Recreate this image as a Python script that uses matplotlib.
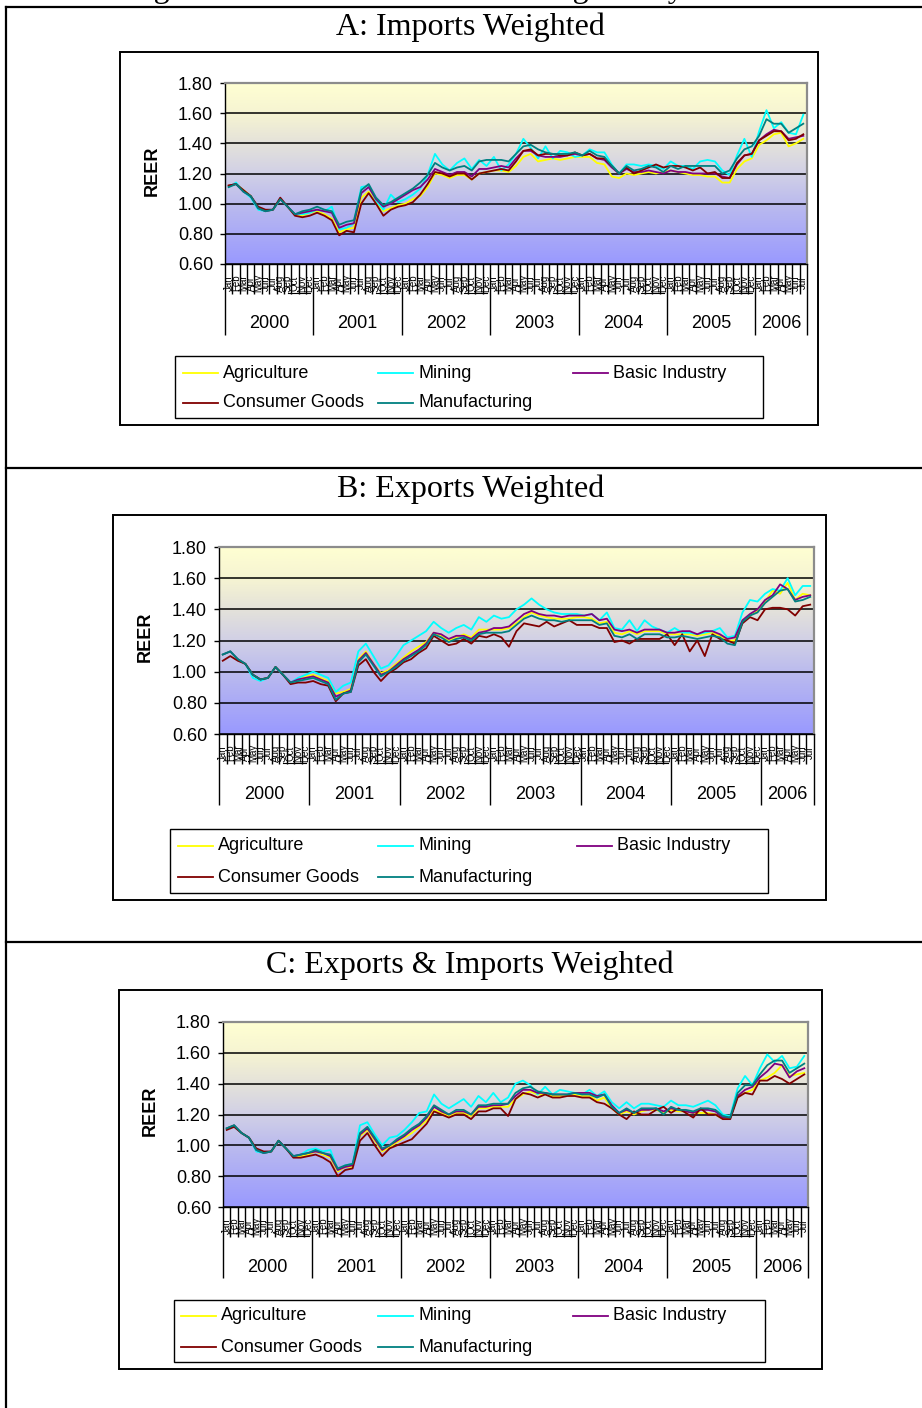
import numpy as np
import matplotlib
matplotlib.use("Agg")
import matplotlib.pyplot as plt
from matplotlib.colors import LinearSegmentedColormap
from matplotlib.lines import Line2D
from matplotlib.patches import Rectangle
from matplotlib.ticker import FormatStrFormatter
from matplotlib.transforms import ScaledTranslation

W, H, DPI = 922, 1408, 100
plt.rcParams["font.family"] = ["Liberation Sans", "DejaVu Sans"]
SERIF = ["Liberation Serif", "DejaVu Serif"]

# ---- categories -------------------------------------------------------
month_names = ["Jan", "Feb", "Mar", "Apr", "May", "Jun",
               "Jul", "Aug", "Sep", "Oct", "Nov", "Dec"]
years = ["2000", "2001", "2002", "2003", "2004", "2005", "2006"]
months_per_year = [12, 12, 12, 12, 12, 12, 7]

series_names = ["Agriculture", "Mining", "Basic Industry",
                "Consumer Goods", "Manufacturing"]
series_colors = ["#FFFF00", "#00FFFF", "#800080", "#800000", "#008080"]

# ---- A: imports weighted REER -----------------------------------------
imp_agriculture = [1.12, 1.13, 1.09, 1.05, 0.97, 0.95, 0.96, 1.03, 0.98, 0.93, 0.92, 0.94,
                   0.95, 0.93, 0.90, 0.81, 0.83, 0.84, 1.04, 1.08, 1.01, 0.95, 0.97, 0.99,
                   1.00, 1.03, 1.05, 1.11, 1.20, 1.19, 1.17, 1.19, 1.19, 1.16, 1.20, 1.21,
                   1.22, 1.22, 1.21, 1.25, 1.31, 1.33, 1.28, 1.29, 1.30, 1.29, 1.30, 1.31,
                   1.31, 1.31, 1.27, 1.26, 1.18, 1.17, 1.20, 1.19, 1.20, 1.21, 1.20, 1.21,
                   1.22, 1.21, 1.20, 1.19, 1.19, 1.18, 1.18, 1.14, 1.14, 1.23, 1.28, 1.30,
                   1.39, 1.42, 1.46, 1.47, 1.38, 1.40, 1.43]
imp_mining = [1.11, 1.14, 1.08, 1.04, 0.96, 0.95, 0.96, 1.03, 0.98, 0.93, 0.93, 0.94,
              0.96, 0.95, 0.98, 0.83, 0.84, 0.87, 1.11, 1.12, 1.02, 0.96, 1.06, 1.01,
              1.03, 1.06, 1.10, 1.19, 1.33, 1.26, 1.22, 1.27, 1.30, 1.23, 1.29, 1.25,
              1.31, 1.22, 1.26, 1.33, 1.43, 1.37, 1.30, 1.38, 1.30, 1.35, 1.34, 1.31,
              1.32, 1.36, 1.34, 1.34, 1.26, 1.20, 1.26, 1.26, 1.25, 1.26, 1.25, 1.23,
              1.28, 1.25, 1.25, 1.23, 1.28, 1.29, 1.28, 1.22, 1.19, 1.32, 1.43, 1.31,
              1.48, 1.62, 1.50, 1.54, 1.47, 1.46, 1.59]
imp_basic = [1.12, 1.13, 1.08, 1.05, 0.97, 0.95, 0.96, 1.03, 0.98, 0.93, 0.94, 0.95,
             0.96, 0.95, 0.94, 0.84, 0.86, 0.87, 1.07, 1.11, 1.03, 0.98, 1.00, 1.03,
             1.06, 1.09, 1.11, 1.16, 1.23, 1.21, 1.19, 1.21, 1.21, 1.18, 1.23, 1.23,
             1.24, 1.25, 1.24, 1.30, 1.35, 1.35, 1.32, 1.31, 1.31, 1.31, 1.32, 1.33,
             1.32, 1.33, 1.30, 1.29, 1.24, 1.20, 1.23, 1.21, 1.21, 1.22, 1.21, 1.20,
             1.22, 1.21, 1.21, 1.20, 1.20, 1.20, 1.20, 1.18, 1.17, 1.26, 1.32, 1.33,
             1.42, 1.46, 1.49, 1.48, 1.43, 1.44, 1.45]
imp_consumer = [1.12, 1.13, 1.09, 1.05, 0.98, 0.96, 0.96, 1.04, 0.98, 0.92, 0.91, 0.92,
                0.94, 0.92, 0.89, 0.79, 0.82, 0.81, 1.00, 1.07, 1.00, 0.92, 0.96, 0.98,
                0.99, 1.01, 1.06, 1.13, 1.21, 1.20, 1.18, 1.20, 1.20, 1.16, 1.20, 1.21,
                1.22, 1.23, 1.22, 1.28, 1.35, 1.36, 1.32, 1.33, 1.33, 1.32, 1.32, 1.34,
                1.32, 1.33, 1.30, 1.30, 1.25, 1.20, 1.24, 1.20, 1.22, 1.24, 1.26, 1.24,
                1.25, 1.25, 1.24, 1.22, 1.24, 1.20, 1.21, 1.17, 1.17, 1.27, 1.32, 1.33,
                1.42, 1.45, 1.48, 1.48, 1.42, 1.43, 1.46]
imp_manufacturing = [1.11, 1.13, 1.08, 1.05, 0.97, 0.95, 0.96, 1.03, 0.98, 0.93, 0.95, 0.96,
                     0.98, 0.96, 0.95, 0.86, 0.88, 0.89, 1.09, 1.13, 1.04, 0.99, 1.01, 1.04,
                     1.07, 1.10, 1.14, 1.19, 1.27, 1.24, 1.22, 1.24, 1.25, 1.22, 1.28, 1.29,
                     1.29, 1.29, 1.28, 1.33, 1.38, 1.39, 1.36, 1.34, 1.33, 1.33, 1.33, 1.34,
                     1.32, 1.35, 1.32, 1.31, 1.25, 1.20, 1.25, 1.22, 1.23, 1.25, 1.24, 1.21,
                     1.25, 1.23, 1.25, 1.25, 1.25, 1.25, 1.25, 1.20, 1.22, 1.30, 1.36, 1.38,
                     1.45, 1.56, 1.53, 1.53, 1.47, 1.50, 1.53]

# ---- B: exports weighted REER -----------------------------------------
exp_agriculture = [1.11, 1.13, 1.08, 1.05, 0.98, 0.95, 0.96, 1.03, 0.98, 0.93, 0.95, 0.97,
                   0.98, 0.96, 0.94, 0.86, 0.87, 0.89, 1.08, 1.13, 1.05, 0.99, 1.01, 1.05,
                   1.09, 1.13, 1.16, 1.19, 1.25, 1.23, 1.20, 1.22, 1.24, 1.22, 1.27, 1.27,
                   1.27, 1.27, 1.28, 1.31, 1.35, 1.38, 1.36, 1.35, 1.34, 1.34, 1.34, 1.35,
                   1.35, 1.34, 1.31, 1.32, 1.25, 1.24, 1.26, 1.24, 1.26, 1.26, 1.26, 1.24,
                   1.24, 1.24, 1.24, 1.23, 1.24, 1.25, 1.23, 1.20, 1.20, 1.32, 1.36, 1.39,
                   1.45, 1.52, 1.50, 1.57, 1.46, 1.50, 1.49]
exp_mining = [1.11, 1.13, 1.08, 1.05, 0.96, 0.94, 0.96, 1.03, 0.98, 0.93, 0.96, 0.98,
              1.00, 0.98, 0.96, 0.87, 0.91, 0.93, 1.13, 1.18, 1.10, 1.02, 1.04, 1.10,
              1.17, 1.20, 1.23, 1.26, 1.32, 1.28, 1.25, 1.28, 1.30, 1.27, 1.35, 1.32,
              1.36, 1.34, 1.35, 1.40, 1.43, 1.47, 1.43, 1.40, 1.38, 1.37, 1.37, 1.37,
              1.36, 1.37, 1.33, 1.38, 1.28, 1.27, 1.33, 1.26, 1.33, 1.29, 1.27, 1.25,
              1.28, 1.25, 1.25, 1.24, 1.25, 1.26, 1.28, 1.22, 1.23, 1.38, 1.46, 1.45,
              1.50, 1.53, 1.52, 1.60, 1.49, 1.55, 1.55]
exp_basic = [1.11, 1.13, 1.08, 1.05, 0.98, 0.95, 0.96, 1.03, 0.98, 0.93, 0.95, 0.96,
             0.97, 0.95, 0.93, 0.84, 0.86, 0.88, 1.07, 1.12, 1.05, 0.98, 1.00, 1.04,
             1.08, 1.11, 1.14, 1.18, 1.25, 1.24, 1.21, 1.23, 1.23, 1.21, 1.25, 1.26,
             1.28, 1.28, 1.29, 1.33, 1.37, 1.39, 1.37, 1.36, 1.36, 1.35, 1.36, 1.36,
             1.36, 1.37, 1.33, 1.34, 1.27, 1.26, 1.27, 1.25, 1.27, 1.27, 1.27, 1.25,
             1.25, 1.26, 1.26, 1.24, 1.26, 1.26, 1.24, 1.21, 1.22, 1.33, 1.37, 1.40,
             1.46, 1.49, 1.56, 1.53, 1.46, 1.48, 1.49]
exp_consumer = [1.07, 1.10, 1.07, 1.05, 0.98, 0.95, 0.96, 1.03, 0.98, 0.92, 0.93, 0.93,
                0.94, 0.92, 0.91, 0.81, 0.86, 0.87, 1.04, 1.08, 1.00, 0.94, 0.99, 1.02,
                1.06, 1.08, 1.12, 1.15, 1.23, 1.20, 1.17, 1.18, 1.21, 1.18, 1.23, 1.22,
                1.24, 1.22, 1.16, 1.26, 1.31, 1.30, 1.29, 1.32, 1.29, 1.31, 1.33, 1.30,
                1.30, 1.30, 1.28, 1.28, 1.19, 1.20, 1.18, 1.21, 1.21, 1.21, 1.21, 1.24,
                1.17, 1.24, 1.13, 1.20, 1.10, 1.24, 1.21, 1.20, 1.18, 1.31, 1.35, 1.33,
                1.40, 1.41, 1.41, 1.40, 1.36, 1.42, 1.43]
exp_manufacturing = [1.11, 1.13, 1.08, 1.05, 0.98, 0.95, 0.96, 1.03, 0.98, 0.93, 0.94, 0.95,
                     0.96, 0.94, 0.92, 0.82, 0.86, 0.87, 1.06, 1.11, 1.04, 0.97, 1.00, 1.03,
                     1.07, 1.10, 1.13, 1.17, 1.24, 1.22, 1.19, 1.21, 1.22, 1.20, 1.24, 1.25,
                     1.25, 1.25, 1.26, 1.30, 1.34, 1.36, 1.34, 1.33, 1.33, 1.32, 1.33, 1.33,
                     1.33, 1.33, 1.30, 1.31, 1.23, 1.22, 1.24, 1.21, 1.24, 1.24, 1.24, 1.22,
                     1.22, 1.23, 1.22, 1.21, 1.22, 1.23, 1.22, 1.18, 1.17, 1.32, 1.36, 1.38,
                     1.44, 1.48, 1.52, 1.53, 1.45, 1.46, 1.48]

# ---- C: exports & imports weighted REER -------------------------------
both_agriculture = [1.11, 1.13, 1.08, 1.05, 0.97, 0.95, 0.96, 1.03, 0.98, 0.93, 0.93, 0.94,
                    0.96, 0.94, 0.92, 0.83, 0.86, 0.86, 1.06, 1.10, 1.03, 0.96, 0.99, 1.02,
                    1.05, 1.08, 1.12, 1.16, 1.23, 1.21, 1.19, 1.21, 1.21, 1.19, 1.24, 1.24,
                    1.25, 1.25, 1.25, 1.30, 1.33, 1.35, 1.33, 1.33, 1.32, 1.32, 1.32, 1.33,
                    1.32, 1.32, 1.29, 1.31, 1.24, 1.20, 1.22, 1.20, 1.22, 1.23, 1.23, 1.21,
                    1.23, 1.22, 1.22, 1.21, 1.21, 1.21, 1.20, 1.17, 1.18, 1.32, 1.34, 1.36,
                    1.42, 1.44, 1.47, 1.52, 1.45, 1.46, 1.47]
both_mining = [1.11, 1.13, 1.08, 1.05, 0.96, 0.95, 0.96, 1.03, 0.98, 0.93, 0.94, 0.97,
               0.98, 0.96, 0.97, 0.84, 0.87, 0.88, 1.13, 1.15, 1.07, 1.00, 1.05, 1.06,
               1.10, 1.15, 1.21, 1.22, 1.33, 1.27, 1.24, 1.27, 1.30, 1.25, 1.32, 1.28,
               1.34, 1.28, 1.31, 1.40, 1.42, 1.39, 1.33, 1.38, 1.33, 1.36, 1.35, 1.34,
               1.33, 1.36, 1.32, 1.35, 1.28, 1.24, 1.28, 1.24, 1.27, 1.27, 1.26, 1.25,
               1.29, 1.26, 1.26, 1.25, 1.27, 1.29, 1.26, 1.20, 1.19, 1.37, 1.45, 1.39,
               1.50, 1.59, 1.54, 1.58, 1.50, 1.51, 1.58]
both_basic = [1.11, 1.13, 1.08, 1.05, 0.97, 0.95, 0.96, 1.03, 0.98, 0.93, 0.94, 0.95,
              0.96, 0.95, 0.93, 0.84, 0.86, 0.87, 1.07, 1.11, 1.04, 0.97, 1.00, 1.03,
              1.06, 1.10, 1.13, 1.18, 1.25, 1.22, 1.20, 1.22, 1.22, 1.20, 1.25, 1.25,
              1.26, 1.26, 1.27, 1.32, 1.36, 1.36, 1.34, 1.34, 1.33, 1.33, 1.33, 1.34,
              1.34, 1.34, 1.32, 1.33, 1.26, 1.21, 1.23, 1.21, 1.23, 1.23, 1.24, 1.22,
              1.24, 1.23, 1.22, 1.21, 1.23, 1.23, 1.22, 1.18, 1.18, 1.32, 1.36, 1.38,
              1.44, 1.48, 1.53, 1.52, 1.44, 1.48, 1.50]
both_consumer = [1.10, 1.12, 1.08, 1.05, 0.98, 0.96, 0.96, 1.03, 0.98, 0.92, 0.92, 0.93,
                 0.94, 0.92, 0.89, 0.80, 0.84, 0.85, 1.03, 1.08, 1.00, 0.93, 0.98, 1.00,
                 1.02, 1.04, 1.09, 1.14, 1.22, 1.20, 1.18, 1.20, 1.20, 1.17, 1.22, 1.22,
                 1.24, 1.24, 1.19, 1.30, 1.34, 1.33, 1.31, 1.33, 1.31, 1.31, 1.32, 1.32,
                 1.31, 1.31, 1.28, 1.27, 1.24, 1.20, 1.17, 1.22, 1.20, 1.20, 1.23, 1.25,
                 1.21, 1.24, 1.21, 1.18, 1.24, 1.20, 1.20, 1.17, 1.17, 1.31, 1.34, 1.33,
                 1.42, 1.42, 1.45, 1.43, 1.40, 1.43, 1.46]
both_manufacturing = [1.11, 1.13, 1.08, 1.05, 0.97, 0.95, 0.96, 1.03, 0.98, 0.93, 0.94, 0.95,
                      0.97, 0.95, 0.94, 0.85, 0.87, 0.88, 1.08, 1.12, 1.05, 0.98, 1.00, 1.04,
                      1.07, 1.11, 1.14, 1.19, 1.26, 1.23, 1.20, 1.23, 1.23, 1.20, 1.26, 1.26,
                      1.27, 1.27, 1.27, 1.34, 1.37, 1.38, 1.35, 1.34, 1.33, 1.33, 1.33, 1.34,
                      1.33, 1.33, 1.31, 1.33, 1.25, 1.21, 1.24, 1.21, 1.24, 1.24, 1.24, 1.20,
                      1.25, 1.23, 1.23, 1.22, 1.24, 1.24, 1.23, 1.19, 1.18, 1.34, 1.39, 1.39,
                      1.46, 1.52, 1.55, 1.55, 1.47, 1.50, 1.53]

y_ticks = [0.60, 0.80, 1.00, 1.20, 1.40, 1.60, 1.80]

# ---- layout (pixel boxes, measured from the top-left corner) ----------
panels = [
    dict(title="A: Imports Weighted", title_y=27,
         box=(120, 52, 818, 425), plot=(225, 83, 807, 264), ylab=(152, 171),
         legend=(175, 356, 763, 418), rows=(373, 403), cols=(223, 418, 613),
         series=[imp_agriculture, imp_mining, imp_basic, imp_consumer, imp_manufacturing]),
    dict(title="B: Exports Weighted", title_y=489,
         box=(113, 515, 826, 900), plot=(219, 547, 814, 734), ylab=(145, 637),
         legend=(170, 829, 768, 893), rows=(846, 877), cols=(218, 418, 617),
         series=[exp_agriculture, exp_mining, exp_basic, exp_consumer, exp_manufacturing]),
    dict(title="C: Exports & Imports Weighted", title_y=965,
         box=(119, 990, 822, 1369), plot=(223, 1022, 808, 1207), ylab=(150, 1111),
         legend=(174, 1300, 765, 1362), rows=(1316, 1347), cols=(221, 418, 613),
         series=[both_agriculture, both_mining, both_basic, both_consumer, both_manufacturing]),
]

fig = plt.figure(figsize=(W / DPI, H / DPI), dpi=DPI)
fig.patch.set_facecolor("white")


def fx(x):
    return x / W


def fy(y):
    return 1 - y / H


def fig_line(xs, ys, **kw):
    fig.add_artist(Line2D([fx(v) for v in xs], [fy(v) for v in ys],
                          transform=fig.transFigure, **kw))


def down(ax, px):
    return ax.get_xaxis_transform() + ScaledTranslation(0, -px / DPI, fig.dpi_scale_trans)


# page-level caption (runs off the top of the page) and the table frame
fig.text(fx(127), fy(-2.5), "Figure 3: Real Effective Rates Weighted by Sector",
         family=SERIF, fontsize=23, ha="left", va="baseline")
fig_line([6, W], [7, 7], color="black", lw=1.6)
fig_line([6, 6], [7, H], color="black", lw=1.6)
fig_line([6, W], [468, 468], color="black", lw=1.6)
fig_line([6, W], [942, 942], color="black", lw=1.6)

bg_cmap = LinearSegmentedColormap.from_list(
    "plotarea",
    [(0.0, "#9999FF"), (0.333, "#BBBBEE"), (0.5, "#D1D0E6"),
     (0.667, "#E4E2DA"), (0.833, "#F6F4D2"), (1.0, "#FFFFD2")])
gradient = np.linspace(0, 1, 256).reshape(-1, 1)

year_edges = np.concatenate([[0], np.cumsum(months_per_year)])

for p in panels:
    # chart frame and title
    bx0, by0, bx1, by1 = p["box"]
    fig.add_artist(Rectangle((fx(bx0), fy(by1)), (bx1 - bx0) / W, (by1 - by0) / H,
                             transform=fig.transFigure, fill=False,
                             edgecolor="black", lw=1.4))
    fig.text(0.51, fy(p["title_y"]), p["title"], family=SERIF, fontsize=23,
             ha="center", va="center")

    x0, y0, x1, y1 = p["plot"]
    ax = fig.add_axes([fx(x0), fy(y1), (x1 - x0) / W, (y1 - y0) / H])
    n = len(p["series"][0])
    ax.imshow(gradient, extent=[0, n, 0.6, 1.8], origin="lower", aspect="auto",
              cmap=bg_cmap, interpolation="bilinear", zorder=0)

    xs = np.arange(n) + 0.5
    lines = []
    for name, color, vals in zip(series_names, series_colors, p["series"]):
        ln, = ax.plot(xs, vals, color=color, lw=1.3, zorder=3, label=name)
        lines.append(ln)

    ax.set_xlim(0, n)
    ax.set_ylim(0.6, 1.8)
    ax.set_yticks(y_ticks)
    ax.yaxis.set_major_formatter(FormatStrFormatter("%.2f"))
    ax.grid(axis="y", color="black", lw=1.1)
    ax.tick_params(axis="y", length=3.6, width=1, labelsize=13, pad=5)

    ax.set_xticks(year_edges)
    ax.set_xticks(np.arange(n + 1), minor=True)
    ax.tick_params(axis="x", which="major", length=51, width=1, labelbottom=False)
    ax.tick_params(axis="x", which="minor", length=21.5, width=1)

    for side in ("top", "right"):
        ax.spines[side].set_color("#8C8C8C")
        ax.spines[side].set_linewidth(1.6)
    for side in ("left", "bottom"):
        ax.spines[side].set_color("black")
        ax.spines[side].set_linewidth(1.0)

    # month labels, squeezed into one narrow column each
    for i in range(n):
        ax.text(i + 0.5, 0, month_names[i % 12], transform=down(ax, 19),
                rotation=90, fontsize=7, ha="center", va="center")
    # year labels and the short rules under the autumn months
    for k, yr in enumerate(years):
        start, stop = year_edges[k], year_edges[k + 1]
        ax.text((start + stop) / 2, 0, yr, transform=down(ax, 60),
                fontsize=13, ha="center", va="center")
        if stop - start == 12:
            ax.plot([start + 8.5, start + 11.6], [0, 0], transform=down(ax, 29),
                    color="black", lw=0.8, clip_on=False)
    ax.set_xlim(0, n)
    ax.set_ylim(0.6, 1.8)

    fig.text(fx(p["ylab"][0]), fy(p["ylab"][1]), "REER", rotation=90,
             fontsize=13, fontweight="bold", ha="center", va="center")

    # legend box laid out in rows of three
    lx0, ly0, lx1, ly1 = p["legend"]
    fig.add_artist(Rectangle((fx(lx0), fy(ly1)), (lx1 - lx0) / W, (ly1 - ly0) / H,
                             transform=fig.transFigure, fill=False,
                             edgecolor="black", lw=1.0))
    for k, ln in enumerate(lines):
        ty = p["rows"][k // 3]
        tx = p["cols"][k % 3]
        fig_line([tx - 40, tx - 5], [ty, ty], color=ln.get_color(), lw=1.3)
        fig.text(fx(tx), fy(ty), ln.get_label(), fontsize=13, ha="left", va="center")

fig.savefig("out.png", dpi=DPI, facecolor="white")
